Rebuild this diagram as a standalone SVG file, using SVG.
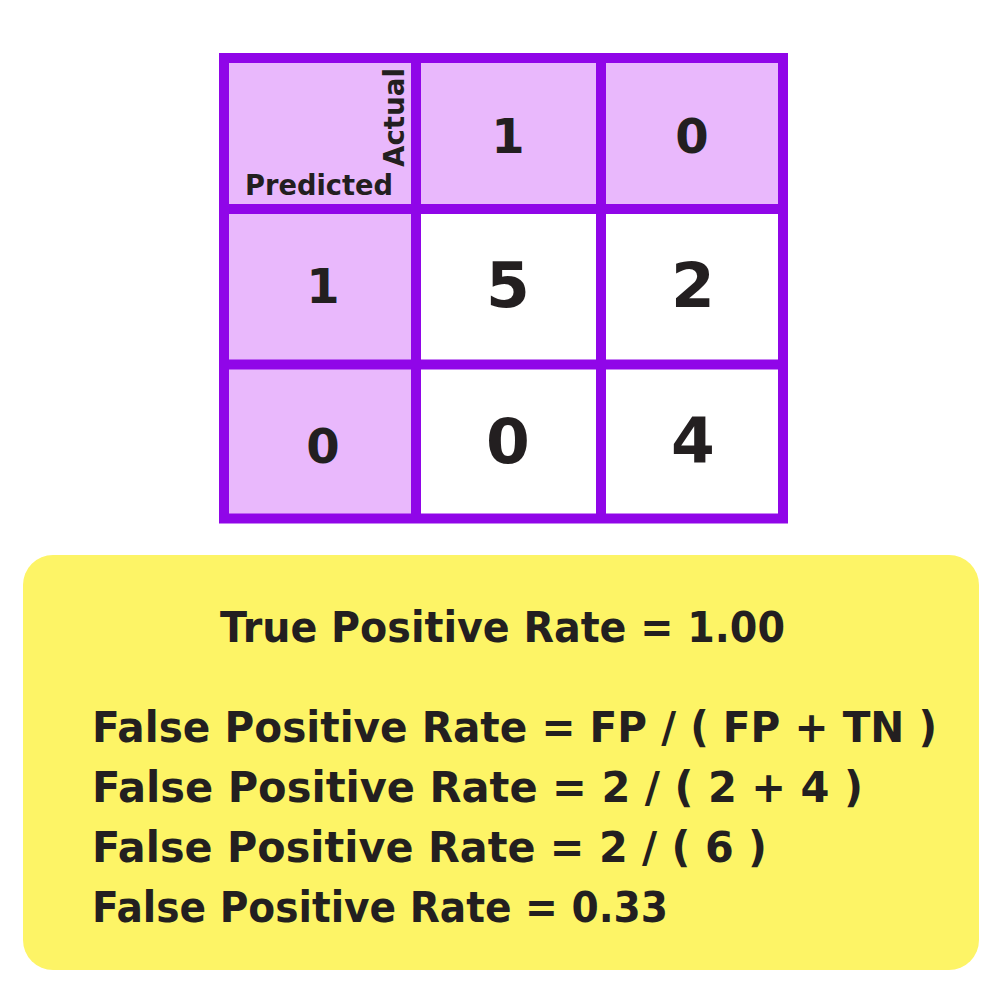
<svg xmlns="http://www.w3.org/2000/svg" width="1000" height="1000" viewBox="0 0 1000 1000">
<style>
.t{font-family:"DejaVu Sans","Liberation Sans",sans-serif;font-weight:bold;fill:#231F20}
.hd{fill:#E9B8FC}
.bd{fill:#FFFFFF}
.grid{fill:none;stroke:#9006E8;stroke-width:10}
</style>
<rect width="1000" height="1000" fill="#FFFFFF"/>
<g id="matrix">
<g id="cell-corner">
<rect class="hd" x="224" y="58" width="192" height="151"/>
<text class="t" x="245" y="195" font-size="28" textLength="148" lengthAdjust="spacingAndGlyphs">Predicted</text>
<text class="t" transform="translate(404,167) rotate(-90)" x="0" y="0" font-size="28" textLength="99" lengthAdjust="spacingAndGlyphs">Actual</text>
</g>
<g id="cell-actual-1">
<rect class="hd" x="416" y="58" width="185" height="151"/>
<text class="t" x="508" y="153" font-size="48" text-anchor="middle">1</text>
</g>
<g id="cell-actual-0">
<rect class="hd" x="601" y="58" width="182" height="151"/>
<text class="t" x="692" y="153" font-size="48" text-anchor="middle">0</text>
</g>
<g id="cell-pred-1">
<rect class="hd" x="224" y="209" width="192" height="155.5"/>
<text class="t" x="323" y="303" font-size="48" text-anchor="middle">1</text>
</g>
<g id="cell-pred-0">
<rect class="hd" x="224" y="364.5" width="192" height="154"/>
<text class="t" x="323" y="463" font-size="48" text-anchor="middle">0</text>
</g>
<g id="cell-tp">
<rect class="bd" x="416" y="209" width="185" height="155.5"/>
<text class="t" x="508" y="307" font-size="63" text-anchor="middle">5</text>
</g>
<g id="cell-fp">
<rect class="bd" x="601" y="209" width="182" height="155.5"/>
<text class="t" x="693" y="307" font-size="63" text-anchor="middle">2</text>
</g>
<g id="cell-fn">
<rect class="bd" x="416" y="364.5" width="185" height="154"/>
<text class="t" x="508" y="463" font-size="63" text-anchor="middle">0</text>
</g>
<g id="cell-tn">
<rect class="bd" x="601" y="364.5" width="182" height="154"/>
<text class="t" x="693" y="462" font-size="63" text-anchor="middle">4</text>
</g>
<g id="grid-lines">
<rect class="grid" x="224" y="58" width="559" height="460.5"/>
<line class="grid" x1="416" y1="58" x2="416" y2="518.5"/>
<line class="grid" x1="601" y1="58" x2="601" y2="518.5"/>
<line class="grid" x1="224" y1="209" x2="783" y2="209"/>
<line class="grid" x1="224" y1="364.5" x2="783" y2="364.5"/>
</g>
</g>
<g id="rates">
<rect x="23" y="555" width="956" height="415" rx="30" ry="30" fill="#FDF466"/>
<text class="t" x="220" y="642" font-size="42" textLength="565" lengthAdjust="spacingAndGlyphs">True Positive Rate = 1.00</text>
<text class="t" x="92" y="742" font-size="42" textLength="845" lengthAdjust="spacingAndGlyphs">False Positive Rate = FP / ( FP + TN )</text>
<text class="t" x="92" y="802" font-size="42" textLength="771" lengthAdjust="spacingAndGlyphs">False Positive Rate = 2 / ( 2 + 4 )</text>
<text class="t" x="92" y="862" font-size="42" textLength="675" lengthAdjust="spacingAndGlyphs">False Positive Rate = 2 / ( 6 )</text>
<text class="t" x="92" y="922" font-size="42" textLength="576" lengthAdjust="spacingAndGlyphs">False Positive Rate = 0.33</text>
</g>
</svg>
